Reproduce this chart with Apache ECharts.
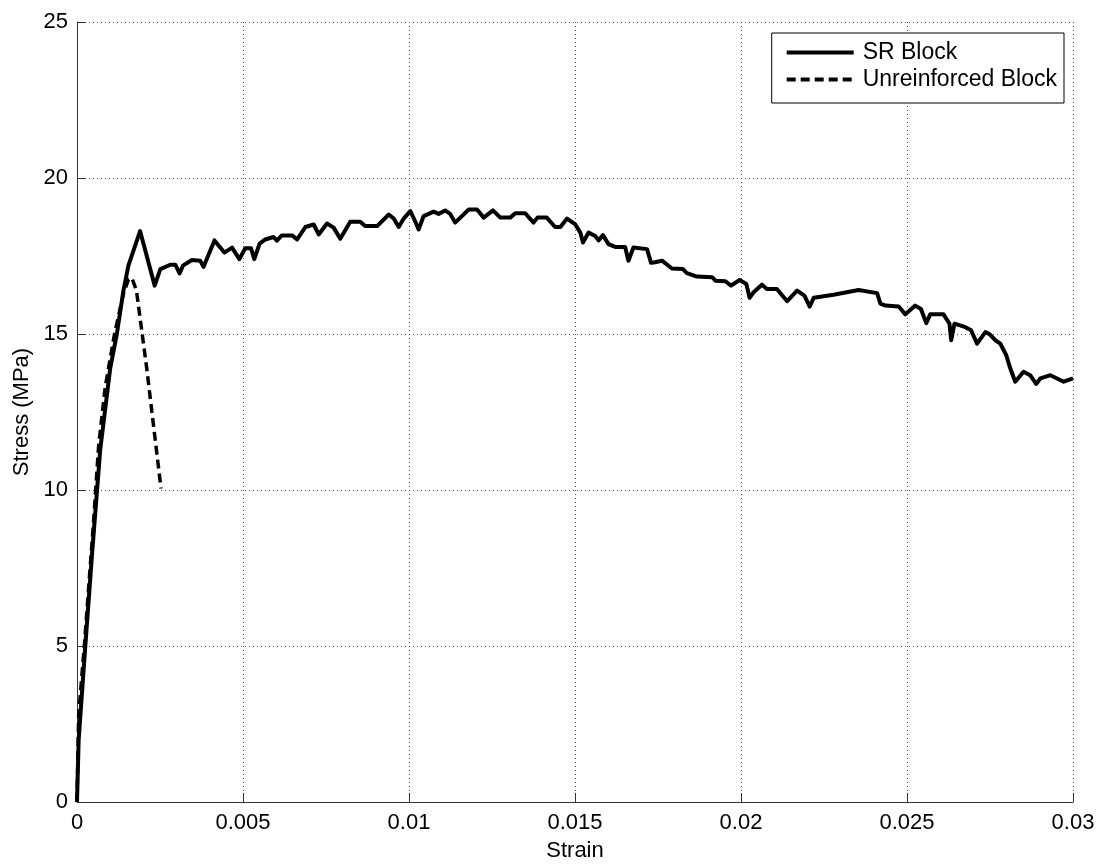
<!DOCTYPE html>
<html>
<head>
<meta charset="utf-8">
<script src="https://cdn.jsdelivr.net/npm/echarts@6/dist/echarts.min.js"></script>
<style>
html,body{margin:0;padding:0;background:#fff;}
#chart{width:1099px;height:867px;}
</style>
</head>
<body>
<div id="chart"></div>
<script>
var xTickLabels = ['0', '0.005', '0.01', '0.015', '0.02', '0.025', '0.03'];
var yTickLabels = ['0', '5', '10', '15', '20', '25'];
var seriesNames = ['SR Block', 'Unreinforced Block'];

var srStrain = [0, 0.00005, 0.00025, 0.00045, 0.0007, 0.001, 0.0012, 0.0014, 0.00155, 0.0019,
  0.00234, 0.00251, 0.00281, 0.00296, 0.00309, 0.00319, 0.00346, 0.00371, 0.00381, 0.00414,
  0.00444, 0.00467, 0.00489, 0.00507, 0.00524, 0.00534, 0.0055, 0.00567, 0.00592, 0.00602,
  0.00617, 0.00648, 0.00663, 0.00688, 0.00713, 0.00728, 0.00753, 0.00773, 0.00793, 0.00823,
  0.00853, 0.00868, 0.00904, 0.00939, 0.00954, 0.00969, 0.00984, 0.01004, 0.01016, 0.01029,
  0.01044, 0.01074, 0.01089, 0.01109, 0.01124, 0.01139, 0.0118, 0.01205, 0.01225, 0.01253,
  0.01275, 0.01305, 0.0132, 0.0135, 0.01375, 0.01387, 0.01415, 0.0144, 0.01456, 0.01476,
  0.01501, 0.01516, 0.01524, 0.01541, 0.01561, 0.01571, 0.01584, 0.01601, 0.01621, 0.01651,
  0.01661, 0.01676, 0.01717, 0.01729, 0.01737, 0.01762, 0.01792, 0.01825, 0.01837, 0.01867,
  0.01913, 0.01923, 0.01953, 0.0197, 0.01996, 0.02016, 0.02026, 0.02038, 0.02063, 0.02078,
  0.02108, 0.02139, 0.02169, 0.02191, 0.02207, 0.02219, 0.02279, 0.02354, 0.0241, 0.0242,
  0.02435, 0.02475, 0.02495, 0.02525, 0.02542, 0.02558, 0.0257, 0.0261, 0.02628, 0.02633,
  0.02643, 0.02676, 0.02693, 0.02711, 0.02736, 0.02749, 0.02766, 0.02781, 0.02799, 0.02811,
  0.02826, 0.02851, 0.02871, 0.02889, 0.02902, 0.02932, 0.02972, 0.03];
var srStress = [0, 2.0, 5.0, 7.9, 11.3, 13.9, 15.0, 16.4, 17.2, 18.3,
  16.55, 17.08, 17.22, 17.22, 16.94, 17.19, 17.37, 17.35, 17.15, 18.0,
  17.61, 17.77, 17.4, 17.75, 17.75, 17.4, 17.9, 18.03, 18.11, 17.99,
  18.16, 18.16, 18.03, 18.43, 18.51, 18.19, 18.54, 18.41, 18.05, 18.6,
  18.6, 18.46, 18.46, 18.83, 18.7, 18.43, 18.7, 18.94, 18.67, 18.35,
  18.78, 18.92, 18.85, 18.96, 18.85, 18.57, 18.99, 18.99, 18.73, 18.96,
  18.73, 18.73, 18.87, 18.87, 18.57, 18.73, 18.73, 18.43, 18.43, 18.7,
  18.51, 18.25, 17.93, 18.25, 18.14, 18.0, 18.17, 17.88, 17.79, 17.79,
  17.35, 17.77, 17.72, 17.28, 17.29, 17.35, 17.1, 17.08, 16.95, 16.84,
  16.82, 16.71, 16.69, 16.55, 16.73, 16.6, 16.16, 16.34, 16.58, 16.44,
  16.44, 16.05, 16.39, 16.23, 15.88, 16.16, 16.26, 16.41, 16.31, 15.97,
  15.91, 15.88, 15.63, 15.91, 15.8, 15.35, 15.63, 15.63, 15.33, 14.8,
  15.33, 15.22, 15.12, 14.69, 15.06, 14.99, 14.8, 14.69, 14.32, 13.9,
  13.47, 13.79, 13.68, 13.4, 13.58, 13.68, 13.47, 13.58];

var urStrain = [0, 0.00005, 0.00022, 0.0005, 0.00065, 0.00085, 0.00113, 0.0014, 0.00155, 0.00165, 0.00179, 0.0021, 0.00253];
var urStress = [0, 2.8, 5.0, 9.0, 11.4, 13.3, 15.0, 16.3, 16.75, 16.8, 16.4, 13.9, 10.05];

function zip(a, b) { return a.map(function (v, i) { return [v, b[i]]; }); }

var font = 'Liberation Sans, Arial, Helvetica, sans-serif';
var gridLine = { show: true, lineStyle: { color: '#555', width: 1, type: [1, 3] } };

var chart = echarts.init(document.getElementById('chart'), null, { renderer: 'canvas' });
chart.setOption({
  backgroundColor: '#ffffff',
  animation: false,
  grid: { left: 77, right: 26, top: 22, bottom: 60, containLabel: false },
  legend: {
    right: 35, top: 33, orient: 'vertical',
    backgroundColor: '#fff',
    borderColor: '#000', borderWidth: 1,
    padding: [8, 7, 12, 13],
    itemWidth: 67, itemHeight: 22, itemGap: 4,
    itemStyle: { opacity: 0 },
    lineStyle: { width: 4 },
    textStyle: { fontFamily: font, fontSize: 23, color: '#000', padding: [0, 0, 0, 4] },
    data: seriesNames
  },
  xAxis: {
    type: 'value', min: 0, max: 0.03, interval: 0.005,
    name: 'Strain', nameLocation: 'middle', nameGap: 38,
    nameTextStyle: { fontFamily: font, fontSize: 22, color: '#000' },
    axisLine: { show: true, onZero: false, lineStyle: { color: '#333', width: 1 } },
    axisTick: { show: true, inside: true, length: 9, lineStyle: { color: '#333' } },
    axisLabel: {
      margin: 10, fontFamily: font, fontSize: 22, color: '#000',
      formatter: function (v) { return xTickLabels[Math.round(v / 0.005)]; }
    },
    splitLine: gridLine
  },
  yAxis: {
    type: 'value', min: 0, max: 25, interval: 5,
    name: 'Stress (MPa)', nameLocation: 'middle', nameGap: 44,
    nameTextStyle: { fontFamily: font, fontSize: 22, color: '#000' },
    axisLine: { show: true, onZero: false, lineStyle: { color: '#333', width: 1 } },
    axisTick: { show: true, inside: true, length: 9, lineStyle: { color: '#333' } },
    axisLabel: {
      margin: 9, fontFamily: font, fontSize: 22, color: '#000',
      formatter: function (v) { return yTickLabels[Math.round(v / 5)]; }
    },
    splitLine: gridLine
  },
  series: [
    {
      name: seriesNames[0], type: 'line', data: zip(srStrain, srStress),
      symbol: 'none', showSymbol: false, smooth: false,
      lineStyle: { color: '#000', width: 4, join: 'round' },
      itemStyle: { color: '#000' }, z: 3
    },
    {
      name: seriesNames[1], type: 'line', data: zip(urStrain, urStress),
      symbol: 'none', showSymbol: false, smooth: false,
      lineStyle: { color: '#000', width: 3.5, type: [9, 5] },
      itemStyle: { color: '#000' }, z: 4
    }
  ]
});
</script>
</body>
</html>
